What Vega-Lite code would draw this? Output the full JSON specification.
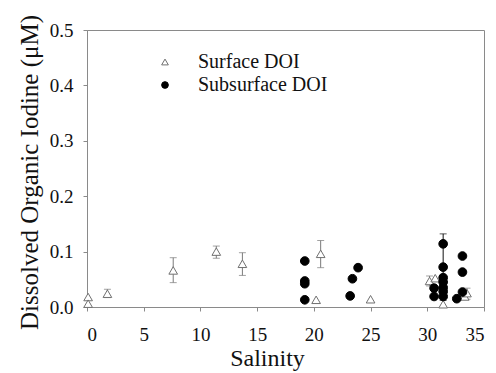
{
  "$schema": "https://vega.github.io/schema/vega-lite/v6.json",
  "autosize": "none",
  "width": 397,
  "height": 277,
  "padding": {"left": 87, "top": 30, "right": 12, "bottom": 66},
  "background": "white",
  "config": {
    "font": "Liberation Serif",
    "view": {"stroke": "#8a8a8a", "strokeWidth": 1},
    "style": {
      "guide-label": {"font": "Liberation Serif"},
      "guide-title": {"font": "Liberation Serif"}
    },
    "axis": {
      "grid": false,
      "domainColor": "#8a8a8a",
      "tickColor": "#8a8a8a",
      "tickSize": 4,
      "labelFont": "Liberation Serif",
      "labelFontSize": 19,
      "labelColor": "#111111",
      "titleFont": "Liberation Serif",
      "titleFontWeight": "normal",
      "titleColor": "#111111"
    },
    "legend": {
      "labelFont": "Liberation Serif",
      "labelFontSize": 20,
      "labelColor": "#111111"
    }
  },
  "data": {
    "values": [
      {"series": "Surface DOI", "salinity": 0.1, "doi": 0.018},
      {"series": "Surface DOI", "salinity": 0.1, "doi": 0.006},
      {"series": "Surface DOI", "salinity": 1.8, "doi": 0.024, "lo": 0.017, "hi": 0.032},
      {"series": "Surface DOI", "salinity": 7.6, "doi": 0.066, "lo": 0.044, "hi": 0.089},
      {"series": "Surface DOI", "salinity": 11.4, "doi": 0.1, "lo": 0.088, "hi": 0.11},
      {"series": "Surface DOI", "salinity": 13.7, "doi": 0.078, "lo": 0.057, "hi": 0.098},
      {"series": "Surface DOI", "salinity": 20.2, "doi": 0.013},
      {"series": "Surface DOI", "salinity": 20.6, "doi": 0.096, "lo": 0.071, "hi": 0.12},
      {"series": "Surface DOI", "salinity": 25.0, "doi": 0.014},
      {"series": "Surface DOI", "salinity": 30.2, "doi": 0.047, "lo": 0.038, "hi": 0.056},
      {"series": "Surface DOI", "salinity": 30.7, "doi": 0.052},
      {"series": "Surface DOI", "salinity": 31.4, "doi": 0.005},
      {"series": "Surface DOI", "salinity": 33.3, "doi": 0.019},
      {"series": "Surface DOI", "salinity": 33.5, "doi": 0.025, "lo": 0.014, "hi": 0.034},
      {"series": "Subsurface DOI", "salinity": 19.2, "doi": 0.083},
      {"series": "Subsurface DOI", "salinity": 19.2, "doi": 0.047},
      {"series": "Subsurface DOI", "salinity": 19.2, "doi": 0.042},
      {"series": "Subsurface DOI", "salinity": 19.2, "doi": 0.013},
      {"series": "Subsurface DOI", "salinity": 23.2, "doi": 0.02},
      {"series": "Subsurface DOI", "salinity": 23.4, "doi": 0.051},
      {"series": "Subsurface DOI", "salinity": 23.9, "doi": 0.071},
      {"series": "Subsurface DOI", "salinity": 30.6, "doi": 0.034},
      {"series": "Subsurface DOI", "salinity": 30.6, "doi": 0.019},
      {"series": "Subsurface DOI", "salinity": 31.4, "doi": 0.114},
      {"series": "Subsurface DOI", "salinity": 31.4, "doi": 0.072, "lo": 0.012, "hi": 0.132},
      {"series": "Subsurface DOI", "salinity": 31.4, "doi": 0.053},
      {"series": "Subsurface DOI", "salinity": 31.4, "doi": 0.045},
      {"series": "Subsurface DOI", "salinity": 31.4, "doi": 0.035},
      {"series": "Subsurface DOI", "salinity": 31.4, "doi": 0.028},
      {"series": "Subsurface DOI", "salinity": 31.4, "doi": 0.019},
      {"series": "Subsurface DOI", "salinity": 32.6, "doi": 0.015},
      {"series": "Subsurface DOI", "salinity": 33.1, "doi": 0.092},
      {"series": "Subsurface DOI", "salinity": 33.1, "doi": 0.063},
      {"series": "Subsurface DOI", "salinity": 33.1, "doi": 0.027}
    ]
  },
  "encoding": {
    "x": {
      "field": "salinity",
      "type": "quantitative",
      "scale": {"domain": [0, 35], "nice": false},
      "axis": {
        "title": "Salinity",
        "values": [0, 5, 10, 15, 20, 25, 30, 35],
        "labelFont": "Liberation Serif",
        "titleFont": "Liberation Serif",
        "labelPadding": 14,
        "titleFontSize": 24,
        "titleX": 180,
        "titleY": 58,
        "titleAlign": "center",
        "titleBaseline": "alphabetic"
      }
    }
  },
  "layer": [
    {
      "transform": [{"filter": "isValid(datum.lo)"}],
      "mark": {"type": "rule", "strokeWidth": 1},
      "encoding": {
        "y": {"field": "lo", "type": "quantitative"},
        "y2": {"field": "hi"},
        "stroke": {
          "condition": {"test": "datum.series === 'Subsurface DOI'", "value": "#111111"},
          "value": "#7a7a7a"
        }
      }
    },
    {
      "transform": [{"filter": "isValid(datum.lo)"}],
      "mark": {"type": "tick", "orient": "horizontal", "size": 7, "thickness": 1},
      "encoding": {
        "y": {"field": "lo", "type": "quantitative"},
        "color": {
          "condition": {"test": "datum.series === 'Subsurface DOI'", "value": "#111111"},
          "value": "#7a7a7a"
        }
      }
    },
    {
      "transform": [{"filter": "isValid(datum.hi)"}],
      "mark": {"type": "tick", "orient": "horizontal", "size": 7, "thickness": 1},
      "encoding": {
        "y": {"field": "hi", "type": "quantitative"},
        "color": {
          "condition": {"test": "datum.series === 'Subsurface DOI'", "value": "#111111"},
          "value": "#7a7a7a"
        }
      }
    },
    {
      "mark": {"type": "point", "size": 75, "strokeWidth": 1, "opacity": 1, "filled": false},
      "encoding": {
        "y": {
          "field": "doi",
          "type": "quantitative",
          "scale": {"domain": [0, 0.5], "nice": false},
          "axis": {
            "title": "Dissolved Organic Iodine (μM)",
            "values": [0, 0.1, 0.2, 0.3, 0.4, 0.5],
            "format": ".1f",
            "labelFont": "Liberation Serif",
            "titleFont": "Liberation Serif",
            "labelPadding": 10,
            "titleFontSize": 25,
            "titleAngle": 270,
            "titleX": -50,
            "titleY": 142,
            "titleAlign": "center",
            "titleBaseline": "alphabetic"
          }
        },
        "shape": {
          "field": "series",
          "type": "nominal",
          "scale": {"domain": ["Surface DOI", "Subsurface DOI"], "range": ["triangle-up", "circle"]},
          "legend": {
            "title": null,
            "orient": "none",
            "legendX": 68,
            "legendY": 22,
            "padding": 0,
            "labelFont": "Liberation Serif",
            "symbolSize": 45,
            "symbolStrokeWidth": 1,
            "labelOffset": 23,
            "rowPadding": 3
          }
        },
        "fill": {
          "field": "series",
          "type": "nominal",
          "scale": {"domain": ["Surface DOI", "Subsurface DOI"], "range": ["#ffffff", "#000000"]},
          "legend": {"title": null}
        },
        "stroke": {
          "field": "series",
          "type": "nominal",
          "scale": {"domain": ["Surface DOI", "Subsurface DOI"], "range": ["#707070", "#000000"]},
          "legend": {"title": null}
        }
      }
    }
  ]
}
